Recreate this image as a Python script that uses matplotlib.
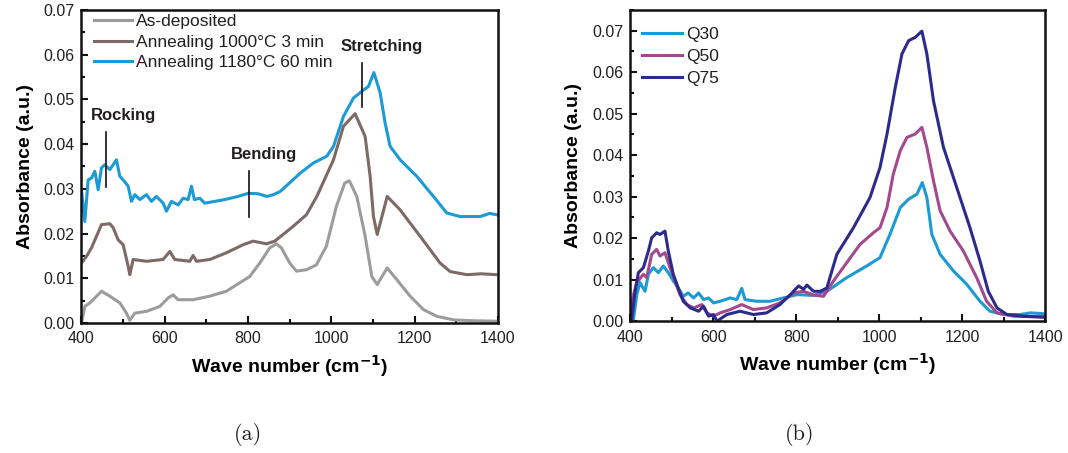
import matplotlib
matplotlib.use("Agg")
import matplotlib.pyplot as plt
from matplotlib.ticker import MultipleLocator

# ---- panel (a): FTIR spectra, as-deposited vs annealed ----------------------
asdep_x = [400, 408, 420, 444, 448, 468, 492, 508, 516, 528, 556, 588, 608, 620,
           632, 668, 708, 748, 780, 804, 828, 852, 868, 880, 900, 916, 940, 964,
           988, 1012, 1032, 1043, 1061, 1081, 1097, 1110, 1134, 1157, 1189, 1221,
           1253, 1293, 1340, 1397]
asdep_y = [0.0, 0.0037, 0.0045, 0.0067, 0.0071, 0.0060, 0.0045, 0.0022, 0.0006,
           0.0022, 0.0026, 0.0037, 0.0056, 0.0063, 0.0052, 0.0052, 0.0060, 0.0071,
           0.0090, 0.0104, 0.0134, 0.0168, 0.0177, 0.0168, 0.0134, 0.0116, 0.0119,
           0.0130, 0.0172, 0.0261, 0.0313, 0.0318, 0.0283, 0.0194, 0.0104, 0.0086,
           0.0123, 0.0097, 0.0060, 0.0030, 0.0015, 0.0007, 0.0005, 0.0004]

ann1000_x = [400, 412, 424, 436, 448, 468, 476, 488, 500, 512, 516, 524, 556, 596,
             612, 624, 660, 668, 676, 708, 748, 788, 812, 844, 864, 908, 940, 965,
             1005, 1029, 1057, 1081, 1093, 1101, 1110, 1134, 1165, 1213, 1261,
             1285, 1325, 1360, 1397]
ann1000_y = [0.0134, 0.0149, 0.0168, 0.0194, 0.0220, 0.0222, 0.0213, 0.0186,
             0.0175, 0.0127, 0.0108, 0.0142, 0.0138, 0.0142, 0.0160, 0.0142,
             0.0138, 0.0151, 0.0138, 0.0142, 0.0157, 0.0175, 0.0183, 0.0177,
             0.0183, 0.0216, 0.0242, 0.0283, 0.0365, 0.0440, 0.0468, 0.0417,
             0.0328, 0.0238, 0.0198, 0.0283, 0.0253, 0.0194, 0.0134, 0.0115,
             0.0108, 0.0110, 0.0108]

ann1180_x = [400, 408, 416, 424, 432, 440, 448, 456, 468, 476, 484, 492, 500, 512,
             520, 528, 540, 556, 568, 580, 596, 604, 616, 632, 644, 656, 664, 671,
             684, 696, 720, 744, 776, 800, 824, 845, 861, 877, 925, 957, 989, 1005,
             1029, 1053, 1073, 1089, 1102, 1117, 1129, 1141, 1165, 1205, 1245,
             1277, 1309, 1357, 1380, 1397]
ann1180_y = [0.0298, 0.0227, 0.0320, 0.0324, 0.0339, 0.0298, 0.0347, 0.0354,
             0.0343, 0.0354, 0.0365, 0.0328, 0.0320, 0.0306, 0.0272, 0.0287,
             0.0276, 0.0287, 0.0272, 0.0283, 0.0268, 0.0250, 0.0272, 0.0264,
             0.0279, 0.0276, 0.0306, 0.0276, 0.0279, 0.0268, 0.0272, 0.0276,
             0.0283, 0.0290, 0.0289, 0.0283, 0.0287, 0.0294, 0.0335, 0.0358,
             0.0373, 0.0395, 0.0462, 0.0503, 0.0518, 0.0529, 0.0560, 0.0515,
             0.0447, 0.0395, 0.0365, 0.0328, 0.0283, 0.0246, 0.0238, 0.0238,
             0.0245, 0.0242]

labels_a = ["As-deposited", "Annealing 1000°C 3 min", "Annealing 1180°C 60 min"]
colors_a = ["#9b9c9e", "#7e6a65", "#1b9ad6"]

# band markers: (label, x, y_low, y_high, text x)
bands = [("Rocking", 459, 0.0303, 0.0428, 500),
         ("Bending", 802, 0.0236, 0.0339, 838),
         ("Stretching", 1073, 0.0484, 0.0582, 1120)]

# ---- panel (b): Q-series ----------------------------------------------------
q30_x = [400, 408, 416, 424, 436, 444, 456, 468, 480, 492, 504, 516, 528, 540,
         553, 565, 577, 589, 601, 617, 641, 657, 669, 677, 705, 737, 769, 802,
         842, 874, 922, 970, 1002, 1026, 1051, 1071, 1091, 1104, 1115, 1127,
         1147, 1179, 1211, 1243, 1267, 1299, 1340, 1364, 1396]
q30_y = [0.0, 0.0004, 0.0064, 0.0093, 0.0072, 0.0113, 0.0129, 0.0117, 0.0133,
         0.0117, 0.0097, 0.0080, 0.0060, 0.0068, 0.0056, 0.0068, 0.0052, 0.0056,
         0.0044, 0.0048, 0.0056, 0.0052, 0.0079, 0.0052, 0.0048, 0.0048, 0.0056,
         0.0064, 0.0062, 0.0072, 0.0105, 0.0133, 0.0153, 0.0209, 0.0274, 0.0294,
         0.0306, 0.0334, 0.0298, 0.0209, 0.0161, 0.0121, 0.0089, 0.0048, 0.0024,
         0.0016, 0.0016, 0.0020, 0.0018]

q50_x = [400, 404, 416, 432, 440, 452, 464, 472, 484, 496, 508, 520, 537, 553,
         573, 585, 601, 617, 641, 669, 697, 729, 761, 794, 818, 842, 866, 890,
         922, 954, 986, 1002, 1019, 1034, 1051, 1067, 1087, 1103, 1115, 1131,
         1147, 1171, 1203, 1235, 1259, 1284, 1324, 1396]
q50_y = [0.0, 0.0048, 0.0093, 0.0113, 0.0105, 0.0161, 0.0173, 0.0157, 0.0165,
         0.0129, 0.0097, 0.0064, 0.0040, 0.0032, 0.0040, 0.0020, 0.0012, 0.0020,
         0.0028, 0.0040, 0.0028, 0.0032, 0.0044, 0.0068, 0.0072, 0.0063, 0.0060,
         0.0097, 0.0141, 0.0185, 0.0213, 0.0225, 0.0274, 0.0354, 0.0411, 0.0443,
         0.0451, 0.0467, 0.0419, 0.0338, 0.0266, 0.0217, 0.0169, 0.0105, 0.0048,
         0.0020, 0.0012, 0.0010]

q75_x = [400, 404, 412, 420, 432, 444, 452, 464, 472, 484, 492, 504, 516, 528,
         545, 565, 577, 589, 601, 609, 633, 665, 697, 729, 761, 786, 806, 818,
         826, 842, 858, 874, 898, 938, 978, 1002, 1019, 1039, 1055, 1071, 1087,
         1103, 1115, 1131, 1155, 1187, 1219, 1243, 1263, 1284, 1308, 1348, 1396]
q75_y = [0.0, 0.0004, 0.0072, 0.0117, 0.0129, 0.0169, 0.0201, 0.0213, 0.0209,
         0.0217, 0.0169, 0.0113, 0.0080, 0.0048, 0.0032, 0.0024, 0.0036, 0.0012,
         0.0016, 0.0000, 0.0016, 0.0024, 0.0016, 0.0020, 0.0040, 0.0064, 0.0085,
         0.0077, 0.0087, 0.0072, 0.0072, 0.0080, 0.0161, 0.0225, 0.0298, 0.0370,
         0.0451, 0.0564, 0.0644, 0.0676, 0.0684, 0.0699, 0.0644, 0.0531, 0.0419,
         0.0322, 0.0225, 0.0145, 0.0072, 0.0032, 0.0016, 0.0012, 0.0010]

labels_b = ["Q30", "Q50", "Q75"]
colors_b = ["#1b9ad6", "#a24a8d", "#2c2b8c"]

TXT = "#231f20"
plt.rcParams["font.family"] = ["Liberation Sans", "DejaVu Sans"]
plt.rcParams["text.color"] = TXT


def style_axes(ax, ymax):
    ax.set_xlim(400, 1400)
    ax.set_ylim(0, ymax)
    ax.xaxis.set_major_locator(MultipleLocator(200))
    ax.xaxis.set_minor_locator(MultipleLocator(100))
    ax.yaxis.set_major_locator(MultipleLocator(0.01))
    ax.yaxis.set_minor_locator(MultipleLocator(0.005))
    ax.yaxis.set_major_formatter(lambda v, p: f"{v:.2f}")
    ax.tick_params(which="both", direction="in", top=False, right=False,
                   labelsize=11.5, labelcolor=TXT, color="#111", width=1.5)
    ax.tick_params(which="major", length=5)
    ax.tick_params(which="minor", length=3)
    ax.tick_params(axis="x", which="major", pad=6)
    ax.tick_params(axis="y", which="major", pad=5)
    for s in ax.spines.values():
        s.set_linewidth(1.8)
        s.set_color("#111")
    ax.set_xlabel("Wave number (cm$^{\\mathbf{-1}}$)", fontsize=14,
                  fontweight="bold", labelpad=5)
    ax.set_ylabel("Absorbance (a.u.)", fontsize=14, fontweight="bold",
                  labelpad=7)


fig = plt.figure(figsize=(10.68, 4.53), dpi=100)
ax1 = fig.add_axes([0.0763, 0.287, 0.390, 0.691])
ax2 = fig.add_axes([0.590, 0.291, 0.3886, 0.687])

for x, y, lab, c in zip([asdep_x, ann1000_x, ann1180_x],
                        [asdep_y, ann1000_y, ann1180_y], labels_a, colors_a):
    ax1.plot(x, y, color=c, lw=2.2, label=lab)
style_axes(ax1, 0.07)
ax1.legend(loc="upper left", bbox_to_anchor=(0.0, 1.025), frameon=False,
           fontsize=12.5, handlelength=2.2, handletextpad=0.25,
           labelspacing=0.3, borderaxespad=0.3)

for lab, bx, ylo, yhi, tx in bands:
    ax1.plot([bx, bx], [ylo, yhi], color="#111", lw=1.2)
    ax1.text(tx, yhi + 0.0037, lab, ha="center", va="center", fontsize=12,
             fontweight="bold")

for x, y, lab, c in zip([q30_x, q50_x, q75_x], [q30_y, q50_y, q75_y],
                        labels_b, colors_b):
    ax2.plot(x, y, color=c, lw=2.2, label=lab)
style_axes(ax2, 0.075)
ax2.legend(loc="upper left", bbox_to_anchor=(0.0, 0.985), frameon=False,
           fontsize=12.5, handlelength=2.3, handletextpad=0.25,
           labelspacing=0.4, borderaxespad=0.3)

fig.text(248 / 1068, 1 - 435 / 453, "(a)", ha="center", va="center",
         fontsize=16, family="cmr10")
fig.text(800 / 1068, 1 - 435 / 453, "(b)", ha="center", va="center",
         fontsize=16, family="cmr10")

fig.savefig("out.png", dpi=100)
